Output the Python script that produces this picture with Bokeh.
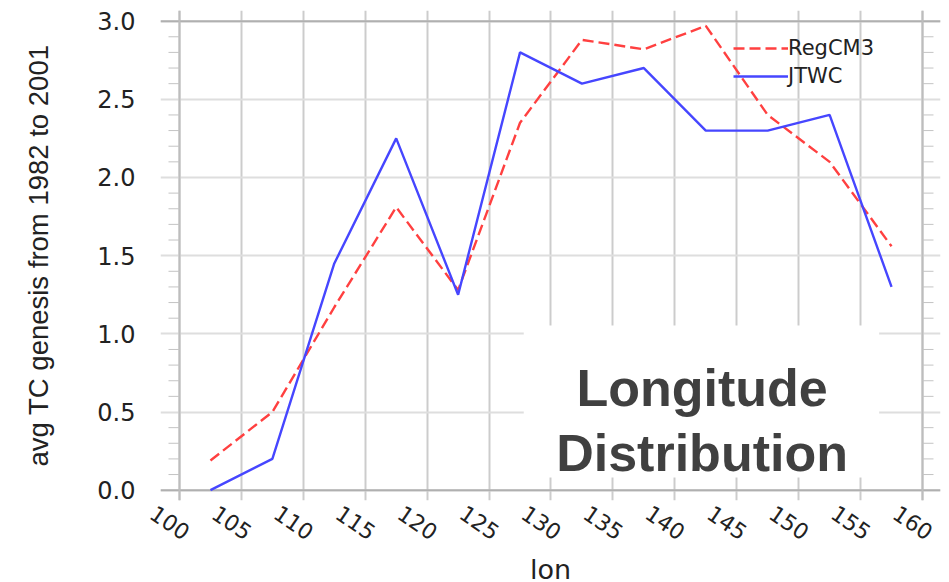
import math
from bokeh.plotting import figure
from bokeh.models import (Range1d, FixedTicker, LinearAxis, Legend, LegendItem, Span,
                          BoxAnnotation, Label, PrintfTickFormatter)
from bokeh.embed import file_html
from bokeh.resources import INLINE

# ---- data ----
lon = [102.5, 107.5, 112.5, 117.5, 122.5, 127.5, 132.5, 137.5, 142.5, 147.5, 152.5, 157.5]
regcm3 = [0.19, 0.50, 1.17, 1.81, 1.28, 2.35, 2.88, 2.82, 2.97, 2.40, 2.10, 1.56]
jtwc = [0.00, 0.20, 1.45, 2.25, 1.25, 2.80, 2.60, 2.70, 2.30, 2.30, 2.40, 1.30]

x_ticks = [100, 105, 110, 115, 120, 125, 130, 135, 140, 145, 150, 155, 160]
x_tick_labels = ["100", "105", "110", "115", "120", "125", "130", "135", "140",
                 "145", "150", "155", "160"]
y_ticks = [0.0, 0.5, 1.0, 1.5, 2.0, 2.5, 3.0]
y_minor = [0.1, 0.2, 0.3, 0.4, 0.6, 0.7, 0.8, 0.9, 1.1, 1.2, 1.3, 1.4,
           1.6, 1.7, 1.8, 1.9, 2.1, 2.2, 2.3, 2.4, 2.6, 2.7, 2.8, 2.9]

x_label = "lon"
y_label = "avg TC genesis from 1982 to 2001"
series_names = ["RegCM3", "JTWC"]
overlay_lines = ["Longitude", "Distribution"]

TXT = "#222222"
EDGE = "#b0b0b0"
TICK = "#c4c4c4"

# plot area extends a little beyond the 100-160 / 0-3 box (ticks stick out)
XR = (98.466, 161.454)
YR = (-0.066, 3.068)
px_per_lon = 743 / 60.0

p = figure(width=949, height=600, output_backend="svg", toolbar_location=None,
           x_range=Range1d(*XR), y_range=Range1d(*YR),
           min_border_left=160, min_border_right=9, min_border_top=10,
           min_border_bottom=100, x_axis_location=None, y_axis_location=None)
p.outline_line_color = None
p.background_fill_color = "white"

# bottom axis: rotated labels only (range shifted a few px so text sits like the original)
shift = 7.8 / px_per_lon
p.extra_x_ranges = {"lab": Range1d(XR[0] - shift, XR[1] - shift)}
xl = LinearAxis(x_range_name="lab", ticker=FixedTicker(ticks=x_ticks, minor_ticks=[]),
                major_label_overrides=dict(zip(x_ticks, x_tick_labels)))
xl.axis_line_color = None
xl.major_tick_line_color = None
xl.minor_tick_line_color = None
xl.major_tick_out = 0
xl.major_tick_in = 0
xl.major_label_orientation = 2 * math.pi - 0.6
xl.major_label_standoff = 34
xl.major_label_text_font = "DejaVu Sans"
xl.major_label_text_font_size = "22px"
xl.major_label_text_color = TXT
xl.axis_label = x_label
xl.axis_label_text_font = "DejaVu Sans"
xl.axis_label_text_font_size = "27px"
xl.axis_label_text_font_style = "normal"
xl.axis_label_text_color = TXT
xl.axis_label_standoff = 6
p.add_layout(xl, "below")

# left axis: labels only
yl = LinearAxis(ticker=FixedTicker(ticks=y_ticks, minor_ticks=[]),
                formatter=PrintfTickFormatter(format="%.1f"))
yl.axis_line_color = None
yl.major_tick_line_color = None
yl.minor_tick_line_color = None
yl.major_tick_out = 0
yl.major_tick_in = 0
yl.axis_label = y_label
yl.axis_label_text_font = "Liberation Sans"
yl.axis_label_text_font_size = "27.5px"
yl.axis_label_text_font_style = "normal"
yl.axis_label_text_color = TXT
yl.axis_label_standoff = 40
yl.major_label_text_font = "DejaVu Sans"
yl.major_label_text_font_size = "24px"
yl.major_label_text_color = TXT
yl.major_label_standoff = 25
p.add_layout(yl, "left")

# grids spanning the whole plot area
p.xgrid.ticker = FixedTicker(ticks=x_ticks, minor_ticks=[])
p.ygrid.ticker = FixedTicker(ticks=y_ticks, minor_ticks=[])
p.xgrid.grid_line_color = "#cccccc"
p.xgrid.grid_line_width = 2
p.ygrid.grid_line_color = "#dedede"
p.ygrid.grid_line_width = 2

# darker box edges
for yv in (y_ticks[0], y_ticks[-1]):
    p.add_layout(Span(location=yv, dimension="width", line_color=EDGE,
                      line_width=2, level="underlay"))
for xv in (x_ticks[0], x_ticks[-1]):
    p.add_layout(Span(location=xv, dimension="height", line_color="#bdbdbd",
                      line_width=2, level="underlay"))

# minor ticks on left/right edges
tick_len = 11 / px_per_lon
p.segment(x0=[x_ticks[0]] * len(y_minor), x1=[x_ticks[0] - tick_len] * len(y_minor),
          y0=y_minor, y1=y_minor, line_color=TICK, line_width=1)
p.segment(x0=[x_ticks[-1]] * len(y_minor), x1=[x_ticks[-1] + tick_len] * len(y_minor),
          y0=y_minor, y1=y_minor, line_color=TICK, line_width=1)

# series
r_reg = p.line(lon, regcm3, line_color="#ff4040", line_width=2.4, line_dash="11 5")
r_jt = p.line(lon, jtwc, line_color="#4646ff", line_width=2.4)

legend = Legend(items=[LegendItem(label=series_names[0], renderers=[r_reg]),
                       LegendItem(label=series_names[1], renderers=[r_jt])],
                location=(573, 410), border_line_color=None, background_fill_alpha=0,
                glyph_width=55, glyph_height=28, label_height=28, label_standoff=0,
                padding=0, margin=0, spacing=0,
                label_text_font="DejaVu Sans", label_text_font_size="21px",
                label_text_color=TXT)
p.add_layout(legend)

# overlay annotation box
p.add_layout(BoxAnnotation(left=127.8, right=156.5, bottom=0.081, top=1.054,
                           fill_color="white", fill_alpha=1.0, line_color=None))
for txt, yy in zip(overlay_lines, [0.651, 0.241]):
    p.add_layout(Label(x=142.2, y=yy, text=txt, text_align="center",
                       text_baseline="alphabetic", text_font="Liberation Sans",
                       text_font_style="bold", text_font_size="52px",
                       text_color="#404040"))

open("out.html", "w").write(file_html(p, INLINE))
